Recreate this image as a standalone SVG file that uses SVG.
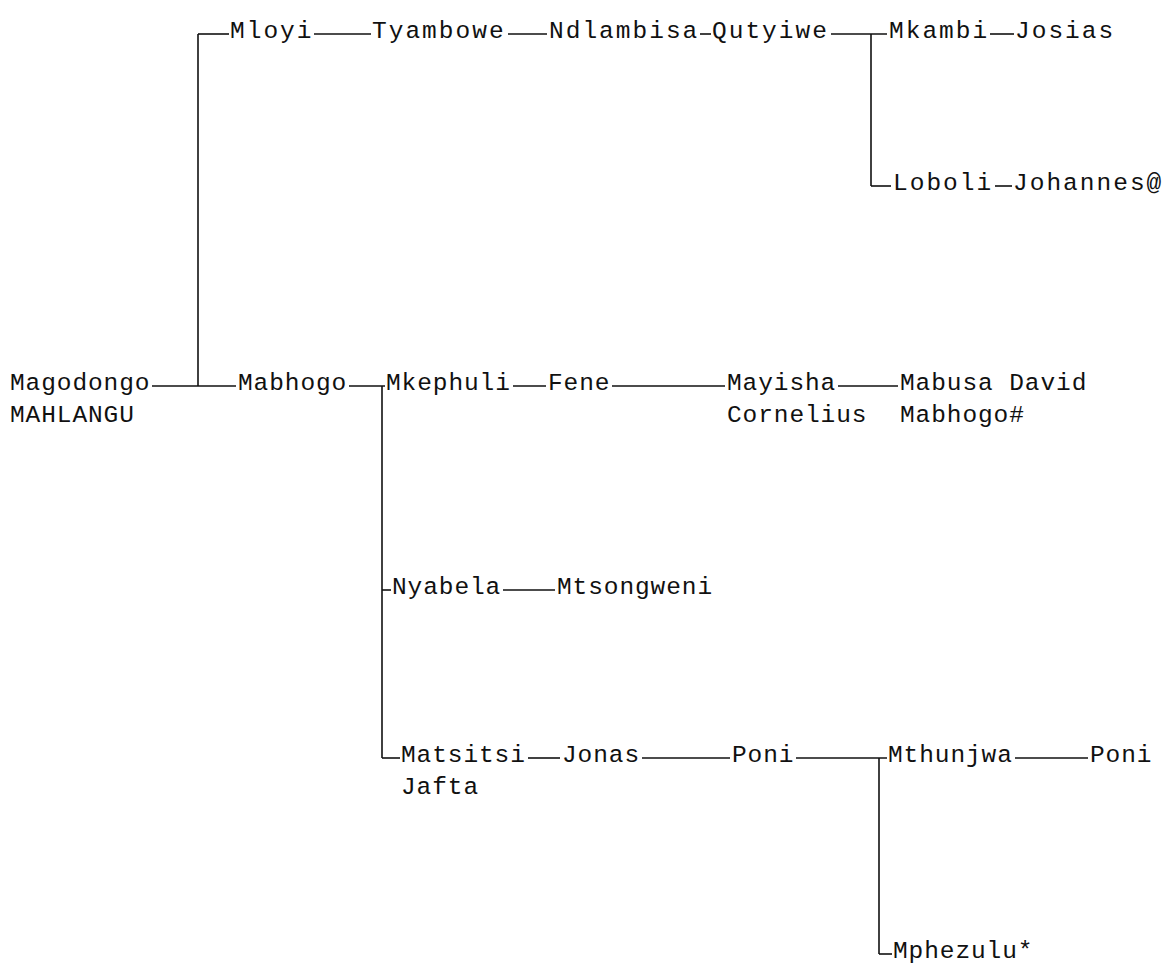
<svg xmlns="http://www.w3.org/2000/svg" width="1170" height="967" viewBox="0 0 1170 967">
<style>
text{font-family:"Liberation Mono","DejaVu Sans Mono",monospace;font-size:24.5px;letter-spacing:0.9px;fill:#111}
text.w{letter-spacing:2px}
.c line{stroke:#111;stroke-width:1.6;fill:none}
</style>
<rect width="1170" height="967" fill="#fff"/>
<g class="c" id="connectors">
<line x1="198" y1="34" x2="198" y2="386"/>
<line x1="198" y1="34" x2="229" y2="34"/>
<line x1="314" y1="34" x2="371" y2="34"/>
<line x1="508" y1="34" x2="547" y2="34"/>
<line x1="700" y1="34" x2="711" y2="34"/>
<line x1="831" y1="34" x2="887" y2="34"/>
<line x1="871" y1="34" x2="871" y2="186"/>
<line x1="990" y1="34" x2="1014" y2="34"/>
<line x1="871" y1="186" x2="891" y2="186"/>
<line x1="995" y1="186" x2="1012" y2="186"/>
<line x1="152" y1="386" x2="236" y2="386"/>
<line x1="349" y1="386" x2="385" y2="386"/>
<line x1="382" y1="386" x2="382" y2="758"/>
<line x1="513" y1="386" x2="546" y2="386"/>
<line x1="612" y1="386" x2="725" y2="386"/>
<line x1="838" y1="386" x2="898" y2="386"/>
<line x1="382" y1="590" x2="391" y2="590"/>
<line x1="503" y1="590" x2="555" y2="590"/>
<line x1="382" y1="758" x2="400" y2="758"/>
<line x1="528" y1="758" x2="560" y2="758"/>
<line x1="642" y1="758" x2="730" y2="758"/>
<line x1="796" y1="758" x2="887" y2="758"/>
<line x1="879" y1="758" x2="879" y2="954"/>
<line x1="1015" y1="758" x2="1088" y2="758"/>
<line x1="879" y1="954" x2="892" y2="954"/>
</g>
<g id="n-magodongo"><text x="10" y="390">Magodongo</text><text x="10" y="422">MAHLANGU</text></g>
<g id="n-mloyi"><text class="w" x="230" y="38">Mloyi</text></g>
<g id="n-tyambowe"><text class="w" x="372" y="38">Tyambowe</text></g>
<g id="n-ndlambisa"><text class="w" x="549" y="38">Ndlambisa</text></g>
<g id="n-qutyiwe"><text class="w" x="712" y="38">Qutyiwe</text></g>
<g id="n-mkambi"><text class="w" x="889" y="38">Mkambi</text></g>
<g id="n-josias"><text class="w" x="1015" y="38">Josias</text></g>
<g id="n-loboli"><text class="w" x="893" y="190">Loboli</text></g>
<g id="n-johannes"><text class="w" x="1013" y="190">Johannes@</text></g>
<g id="n-mabhogo"><text x="238" y="390">Mabhogo</text></g>
<g id="n-mkephuli"><text x="386" y="390">Mkephuli</text></g>
<g id="n-fene"><text x="548" y="390">Fene</text></g>
<g id="n-mayisha"><text x="727" y="390">Mayisha</text><text x="727" y="422">Cornelius</text></g>
<g id="n-mabusa"><text x="900" y="390">Mabusa David</text><text x="900" y="422">Mabhogo#</text></g>
<g id="n-nyabela"><text x="392" y="594">Nyabela</text></g>
<g id="n-mtsongweni"><text x="557" y="594">Mtsongweni</text></g>
<g id="n-matsitsi"><text x="401" y="762">Matsitsi</text><text x="401" y="794">Jafta</text></g>
<g id="n-jonas"><text x="562" y="762">Jonas</text></g>
<g id="n-poni1"><text x="732" y="762">Poni</text></g>
<g id="n-mthunjwa"><text x="888" y="762">Mthunjwa</text></g>
<g id="n-poni2"><text x="1090" y="762">Poni</text></g>
<g id="n-mphezulu"><text x="893" y="958">Mphezulu*</text></g>
</svg>
